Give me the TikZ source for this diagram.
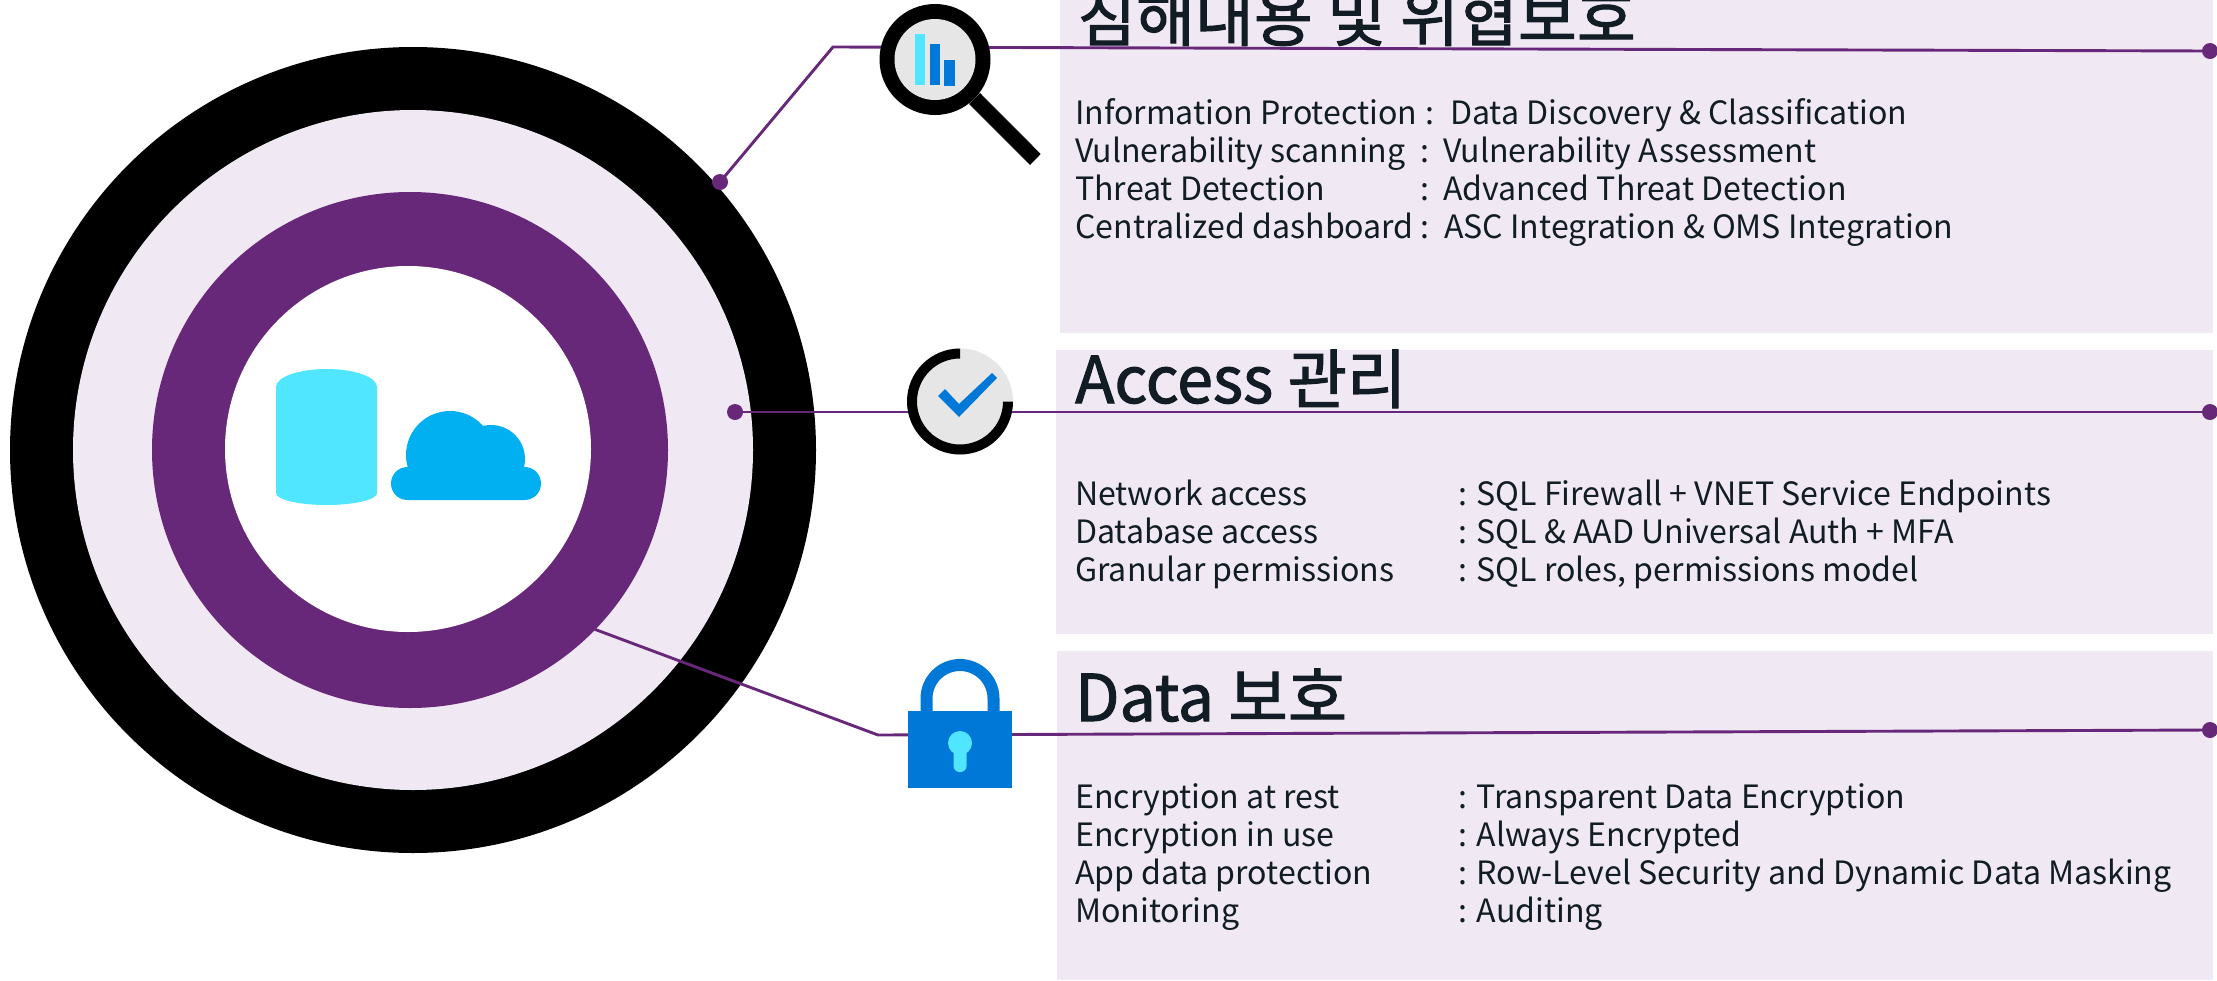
\documentclass[tikz,border=0pt]{standalone}
\usepackage{fontspec}
\setmainfont{Noto Sans CJK KR}
\newfontfamily\titlefont[FakeBold=1.6]{Noto Sans CJK KR}
\definecolor{pur}{HTML}{68287A}
\definecolor{lav}{HTML}{F0E8F2}
\definecolor{ink}{HTML}{111C24}
\definecolor{azure}{HTML}{0078D7}
\definecolor{cyanl}{HTML}{50E6FF}
\definecolor{cloudb}{HTML}{00B0F0}
\definecolor{greyi}{HTML}{E6E6E6}
\tikzset{
  panel/.style={fill=lav,draw=none},
  link/.style={draw=pur,line width=2.9pt},
  enddot/.style={circle,fill=pur,draw=none,inner sep=0pt,minimum size=16pt},
  title/.style={anchor=base west,inner sep=0pt,text=ink,font=\titlefont\fontsize{64.5}{64}\selectfont},
  titlewide/.style={title,font=\titlefont\fontsize{64}{64}\selectfont},
  body/.style={anchor=base west,inner sep=0pt,text=ink,font=\fontsize{32.1}{38}\selectfont},
}
\begin{document}
\begin{tikzpicture}[x=1pt,y=-1pt]
\useasboundingbox (0,0) rectangle (2217,980);
% rings
\fill[black] (413,450) circle[radius=403];
\fill[lav] (413,450) circle[radius=340];
\fill[pur] (410,450) circle[radius=258];
\fill[white] (408,449) circle[radius=183];
% db
\fill[cyanl] (276,387) arc[start angle=180,end angle=360,x radius=50.5,y radius=18] -- (377,493) arc[start angle=0,end angle=180,x radius=50.5,y radius=12] -- cycle;
% cloud
\fill[cloudb] (450,455) circle[radius=44] (491,459) circle[radius=34];
\fill[cloudb,rounded corners=16.4pt] (391,467) rectangle (541,500);
% panels
\path[panel] (1060,0) rectangle (2213,333);
\path[panel] (1056,350) rectangle (2213,634);
\path[panel] (1057,651) rectangle (2213,980);
% connector ends
\node[enddot] (d1) at (720,182) {};
\node[enddot] (e1) at (2210,51) {};
\node[enddot] (d2) at (735,412) {};
\node[enddot] (e2) at (2210,412) {};
\coordinate (d3) at (594,629);
\node[enddot] (e3) at (2210,730) {};
\coordinate (k1) at (833,47);
\coordinate (k3) at (878,735);
\draw[link] (d1.center) -- (k1) -- (e1.center);
\draw[link] (d2.center) -- (e2.center);
\draw[link] (d3) -- (k3) -- (e3.center);
% magnifier
\fill[black] (935,59.5) circle[radius=55.5];
\fill[greyi] (935,59.5) circle[radius=40.5];
\fill[black] (980,93) -- (1040.7,154) -- (1030,165) -- (969,104) -- cycle;
\fill[cyanl] (915,34) rectangle (925,85);
\fill[azure] (930,44) rectangle (940,85);
\fill[azure] (944,60) rectangle (955,86);
% check
\fill[greyi] (960,401.5) circle[radius=53];
\fill[black] (960,348.5) arc[start angle=270,end angle=0,radius=53] -- (1003,401.5) arc[start angle=0,end angle=270,radius=43] -- cycle;
\fill[azure] (938,396) -- (945,389) -- (959,404) -- (992,373) -- (997,378) -- (959,417) -- cycle;
% lock
\draw[azure,line width=12pt] (926.5,711) -- (926.5,698.5) arc[start angle=180,end angle=360,radius=33.5] -- (993.5,711);
\fill[azure] (908,711) rectangle (1012,788);
\fill[cyanl] (960,743) circle[radius=12];
\fill[cyanl,rounded corners=6pt] (953.5,745) rectangle (966.5,772);
% titles
\node[titlewide] (t1) at (1077,41) {침해내용 및 위협보호};
\node[title] (t2) at (1075,403) {Access 관리};
\node[title] (t3) at (1075,721) {Data 보호};
% body 1
\node[body] (a1) at (1075,124) {Information Protection};
\node[body] (a1c) at (1425,124) {:};
\node[body] (a1v) at (1450,124) {Data Discovery \& Classification};
\node[body] (a2) at (1075,162) {Vulnerability scanning};
\node[body] (a2c) at (1420,162) {:};
\node[body] (a2v) at (1443,162) {Vulnerability Assessment};
\node[body] (a3) at (1075,200) {Threat Detection};
\node[body] (a3c) at (1420,200) {:};
\node[body] (a3v) at (1443,200) {Advanced Threat Detection};
\node[body] (a4) at (1075,238) {Centralized dashboard};
\node[body] (a4c) at (1420,238) {:};
\node[body] (a4v) at (1444,238) {ASC Integration \& OMS Integration};
% body 2
\node[body] (b1) at (1075,505) {Network access};
\node[body] (b1v) at (1458,505) {: SQL Firewall + VNET Service Endpoints};
\node[body] (b2) at (1075,543) {Database access};
\node[body] (b2v) at (1458,543) {: SQL \& AAD Universal Auth + MFA};
\node[body] (b3) at (1075,581) {Granular permissions};
\node[body] (b3v) at (1458,581) {: SQL roles, permissions model};
% body 3
\node[body] (c1) at (1075,808) {Encryption at rest};
\node[body] (c1v) at (1458,808) {: Transparent Data Encryption};
\node[body] (c2) at (1075,846) {Encryption in use};
\node[body] (c2v) at (1458,846) {: Always Encrypted};
\node[body] (c3) at (1075,884) {App data protection};
\node[body] (c3v) at (1458,884) {: Row-Level Security and Dynamic Data Masking};
\node[body] (c4) at (1075,922) {Monitoring};
\node[body] (c4v) at (1458,922) {: Auditing};
\end{tikzpicture}
\end{document}
